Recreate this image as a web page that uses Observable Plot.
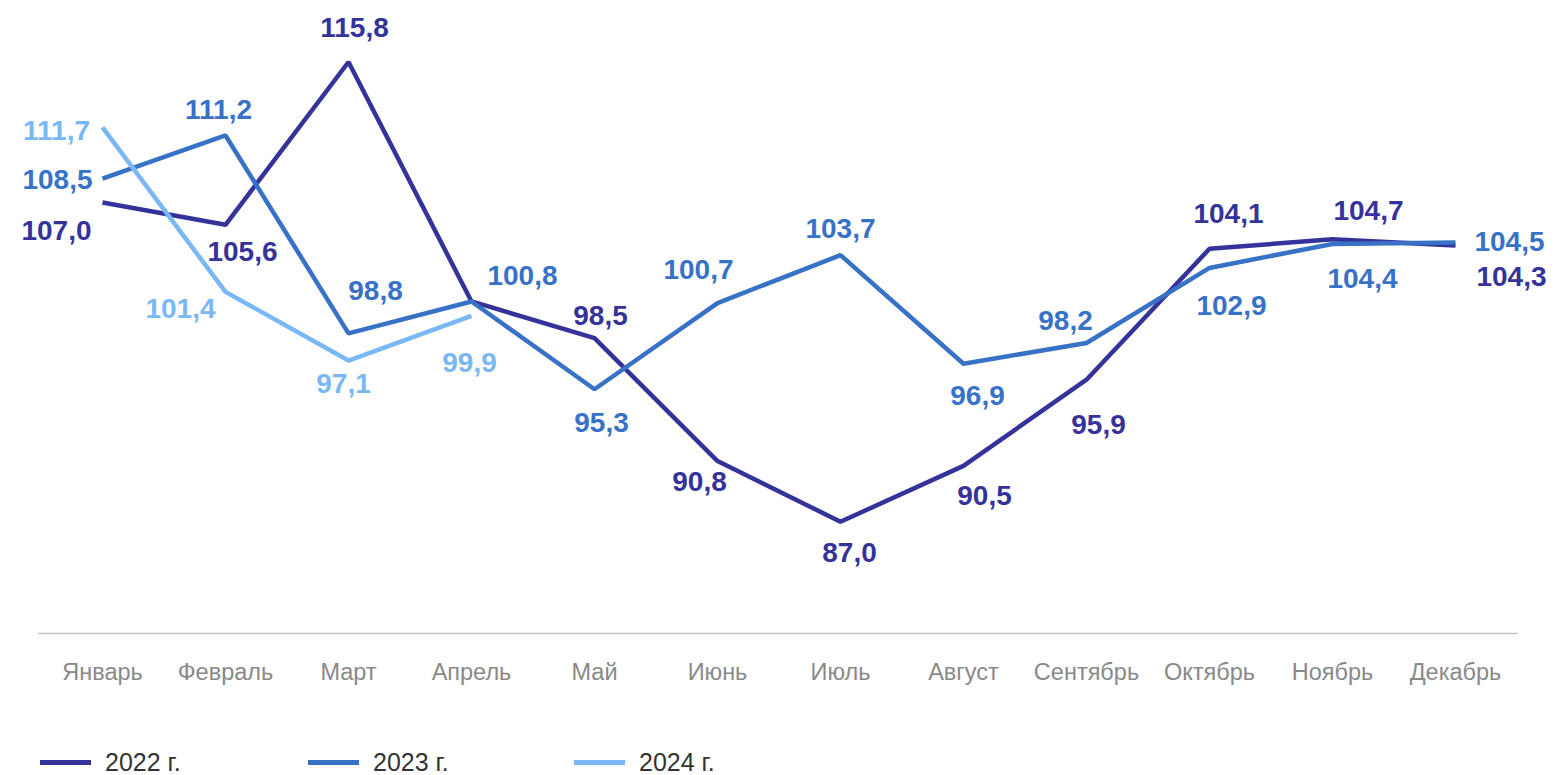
<!DOCTYPE html>
<html>
<head>
<meta charset="utf-8">
<script src="https://cdn.jsdelivr.net/npm/d3@7"></script>
<script src="https://cdn.jsdelivr.net/npm/@observablehq/plot@0.6"></script>
<style>
  html, body { margin: 0; padding: 0; background: #ffffff; overflow: hidden; }
  body { width: 1555px; height: 775px; font-family: "Liberation Sans", Arial, sans-serif; }
  #legend { position: relative; height: 75px; }
  .item { position: absolute; top: 50px; display: flex; align-items: center; height: 24px; }
  .sw { width: 51px; height: 5px; margin-right: 14px; }
  .lbl { font-family: "Liberation Sans", Arial, sans-serif; font-size: 25px; color: #333333; line-height: 24px; }
</style>
</head>
<body>
<div id="chart"></div>
<div id="legend"></div>
<script>
const months = ["Январь","Февраль","Март","Апрель","Май","Июнь","Июль","Август","Сентябрь","Октябрь","Ноябрь","Декабрь"];
const years = ["2022 г.","2023 г.","2024 г."];
const values2022 = [107.0,105.6,115.8,100.8,98.5,90.8,87.0,90.5,95.9,104.1,104.7,104.3];
const values2023 = [108.5,111.2,98.8,100.8,95.3,100.7,103.7,96.9,98.2,102.9,104.4,104.5];
const values2024 = [111.7,101.4,97.1,99.9];
const colors = ["#35339a","#3872c6","#7ab8f5"];

// label placement offsets (px) relative to each point; null = no label
const labelOffsets2022 = [[-46,29],[17,27],[6,-34],null,[6,-22],[-18,21],[9,31],[21,30],[12,45],[19,-35],[36,-28],[56,31]];
const labelOffsets2023 = [[-45,1],[-7,-25],[27,-42],[51,-25],[7,34],[-19,-33],[0,-26],[14,32],[-21,-22],[22,38],[30,35],[54,0]];
const labelOffsets2024 = [[-46,4],[-45,17],[-5,24],[-2,47]];

const seriesValues = [values2022, values2023, values2024];
const seriesOffsets = [labelOffsets2022, labelOffsets2023, labelOffsets2024];

const rows = [];
seriesValues.forEach((vals, si) => {
  vals.forEach((v, i) => {
    rows.push({month: months[i], year: years[si], value: v, off: seriesOffsets[si][i]});
  });
});

const fmt = v => v.toFixed(1).replace(".", ",");

const labelMarks = rows.filter(r => r.off).map(r =>
  Plot.text([r], {
    x: "month", y: "value", text: d => fmt(d.value), fill: "year",
    dx: r.off[0], dy: r.off[1], fontSize: 28, fontWeight: "bold",
    fontFamily: "Liberation Sans, Arial, sans-serif"
  })
);

const chart = Plot.plot({
  width: 1555,
  height: 700,
  marginLeft: 38,
  marginRight: 37,
  marginTop: 20,
  marginBottom: 67,
  style: { fontFamily: "Liberation Sans, Arial, sans-serif", background: "#ffffff" },
  x: { type: "point", domain: months, padding: 0.5, label: null },
  y: { domain: [80, 118.4], axis: null },
  color: { domain: years, range: colors },
  marks: [
    Plot.ruleY([80], { stroke: "#c4c4c4", strokeWidth: 1.5 }),
    Plot.axisX({ tickSize: 0, tickPadding: 30, fontSize: 23.5, color: "#898989", label: null }),
    Plot.line(rows, { x: "month", y: "value", z: "year", stroke: "year", strokeWidth: 4.5, strokeLinejoin: "miter", strokeLinecap: "butt" }),
    ...labelMarks
  ]
});
document.getElementById("chart").appendChild(chart);

const legend = document.getElementById("legend");
const legendX = [40, 308, 574];
years.forEach((y, i) => {
  const it = document.createElement("div");
  it.className = "item";
  it.style.left = legendX[i] + "px";
  const sw = document.createElement("div");
  sw.className = "sw";
  sw.style.background = colors[i];
  const t = document.createElement("span");
  t.className = "lbl";
  t.textContent = y;
  it.appendChild(sw); it.appendChild(t);
  legend.appendChild(it);
});
</script>
</body>
</html>
